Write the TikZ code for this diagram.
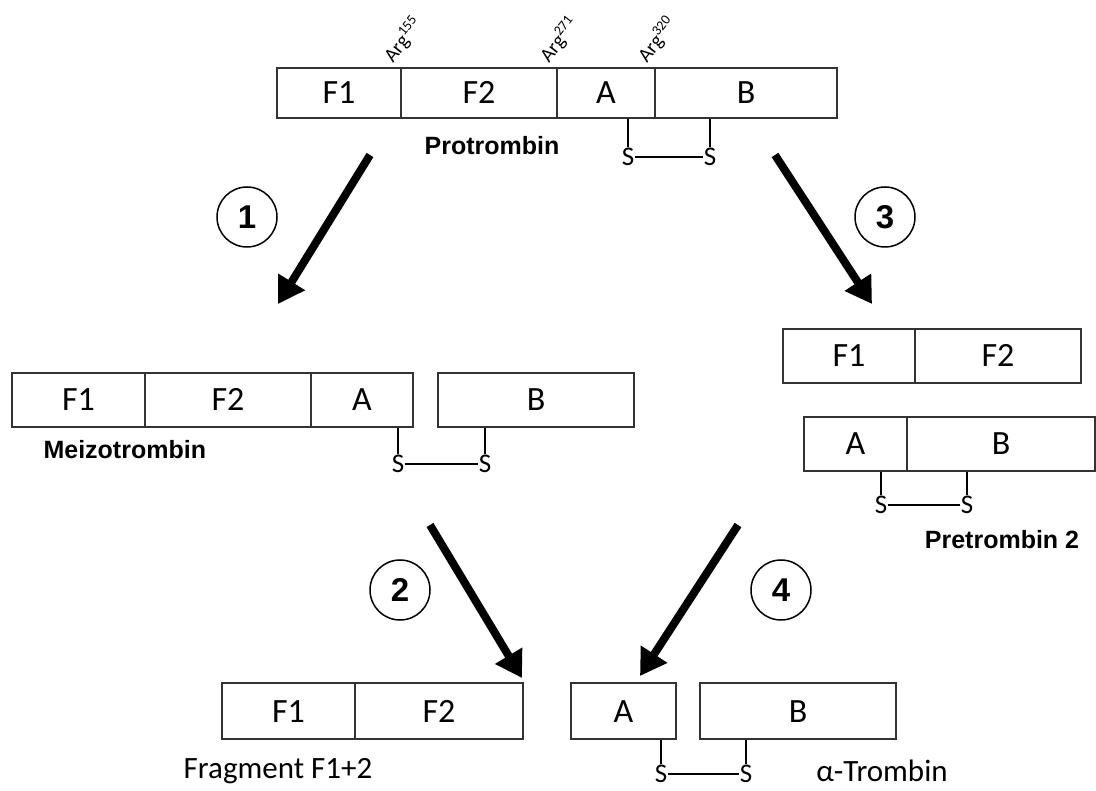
\documentclass[tikz,border=0pt]{standalone}
\usepackage{fontspec}
\setmainfont{Carlito}[Numbers=Lining]
\newfontfamily\arialfont{Liberation Sans}
\usetikzlibrary{arrows.meta}

\begin{document}
\begin{tikzpicture}
    [
        x=1pt, y=-1pt,
        seg/.style={rectangle, draw=black!80, line width=1.6pt, inner sep=0pt,
            minimum height=54pt, text height=22pt, text depth=0pt,
            font=\fontsize{34}{35}\selectfont},
        sulfur/.style={inner sep=1pt, font=\fontsize{27}{28}\selectfont},
        bond/.style={line width=2.4pt},
        argsite/.style={rotate=52, anchor=south west, inner sep=1pt,
            font=\fontsize{20}{21}\selectfont},
        title/.style={font=\arialfont\bfseries\fontsize{25}{26}\selectfont},
        stepnum/.style={circle, draw, line width=1.5pt, minimum size=60pt,
            inner sep=0pt, font=\arialfont\bfseries\fontsize{33}{34}\selectfont},
        bigarrow/.style={line width=8pt, -{Triangle[length=26pt, width=30pt]}},
    ]
    \useasboundingbox (0,0) rectangle (1096,791);

    % protrombin
    \node (pF1) at (339,93) [seg, minimum width=124pt, minimum height=50pt] {F1};
    \node (pF2) at (479,93) [seg, minimum width=156pt, minimum height=50pt] {F2};
    \node (pA) at (606,93) [seg, minimum width=98pt, minimum height=50pt] {A};
    \node (pB) at (746,93) [seg, minimum width=182pt, minimum height=50pt] {B};
    \node (arg1) at (396,67) [argsite] {Arg\textsuperscript{155}};
    \node (arg2) at (552,67) [argsite] {Arg\textsuperscript{271}};
    \node (arg3) at (650,67) [argsite] {Arg\textsuperscript{320}};
    \node (ps1) at (628,157) [sulfur] {S};
    \node (ps2) at (710,157) [sulfur] {S};
    \draw [bond] (ps1.north) -- (ps1.north |- pA.south);
    \draw [bond] (ps2.north) -- (ps2.north |- pB.south);
    \draw [bond] (ps1) -- (ps2);
    \node (protrombin) at (492,146) [title] {Protrombin};

    % meizotrombin
    \node (mF1) at (78.5,400) [seg, minimum width=133pt] {F1};
    \node (mF2) at (228,400) [seg, minimum width=166pt] {F2};
    \node (mA) at (362,400) [seg, minimum width=102pt] {A};
    \node (mB) at (536,400) [seg, minimum width=196pt] {B};
    \node (ms1) at (398,464) [sulfur] {S};
    \node (ms2) at (485,464) [sulfur] {S};
    \draw [bond] (ms1.north) -- (ms1.north |- mA.south);
    \draw [bond] (ms2.north) -- (ms2.north |- mB.south);
    \draw [bond] (ms1) -- (ms2);
    \node (meizo) at (40,450) [title, anchor=west] {Meizotrombin};

    % pretrombin 2
    \node (qF1) at (849,356) [seg, minimum width=132pt] {F1};
    \node (qF2) at (998,356) [seg, minimum width=166pt] {F2};
    \node (qA) at (855.5,444) [seg, minimum width=103pt] {A};
    \node (qB) at (1001,444) [seg, minimum width=188pt] {B};
    \node (qs1) at (881,505) [sulfur] {S};
    \node (qs2) at (967,505) [sulfur] {S};
    \draw [bond] (qs1.north) -- (qs1.north |- qA.south);
    \draw [bond] (qs2.north) -- (qs2.north |- qB.south);
    \draw [bond] (qs1) -- (qs2);
    \node (pretrombin) at (1002,540) [title] {Pretrombin 2};

    % fragment F1+2
    \node (fF1) at (288.5,711) [seg, minimum width=133pt, minimum height=56pt] {F1};
    \node (fF2) at (439,711) [seg, minimum width=168pt, minimum height=56pt] {F2};
    \node (fragment) at (278,771) [font=\fontsize{31}{32}\selectfont] {Fragment F1+2};

    % alpha-trombin
    \node (tA) at (623.5,711) [seg, minimum width=105pt, minimum height=56pt] {A};
    \node (tB) at (798,711) [seg, minimum width=196pt, minimum height=56pt] {B};
    \node (ts1) at (661,774) [sulfur] {S};
    \node (ts2) at (746,774) [sulfur] {S};
    \draw [bond] (ts1.north) -- (ts1.north |- tA.south);
    \draw [bond] (ts2.north) -- (ts2.north |- tB.south);
    \draw [bond] (ts1) -- (ts2);
    \node (trombin) at (882,771) [font=\fontsize{31}{32}\selectfont] {α-Trombin};

    % steps
    \coordinate (a1s) at (370,155);
    \coordinate (a1e) at (278,304);
    \coordinate (a3s) at (775,155);
    \coordinate (a3e) at (872,304);
    \coordinate (a2s) at (430,525);
    \coordinate (a2e) at (522,678);
    \coordinate (a4s) at (738,525);
    \coordinate (a4e) at (640,676);
    \draw [bigarrow] (a1s) -- (a1e);
    \draw [bigarrow] (a3s) -- (a3e);
    \draw [bigarrow] (a2s) -- (a2e);
    \draw [bigarrow] (a4s) -- (a4e);
    \node (n1) at (247,217) [stepnum] {1};
    \node (n3) at (885,217) [stepnum] {3};
    \node (n2) at (400,590) [stepnum] {2};
    \node (n4) at (781,590) [stepnum] {4};
\end{tikzpicture}
\end{document}
